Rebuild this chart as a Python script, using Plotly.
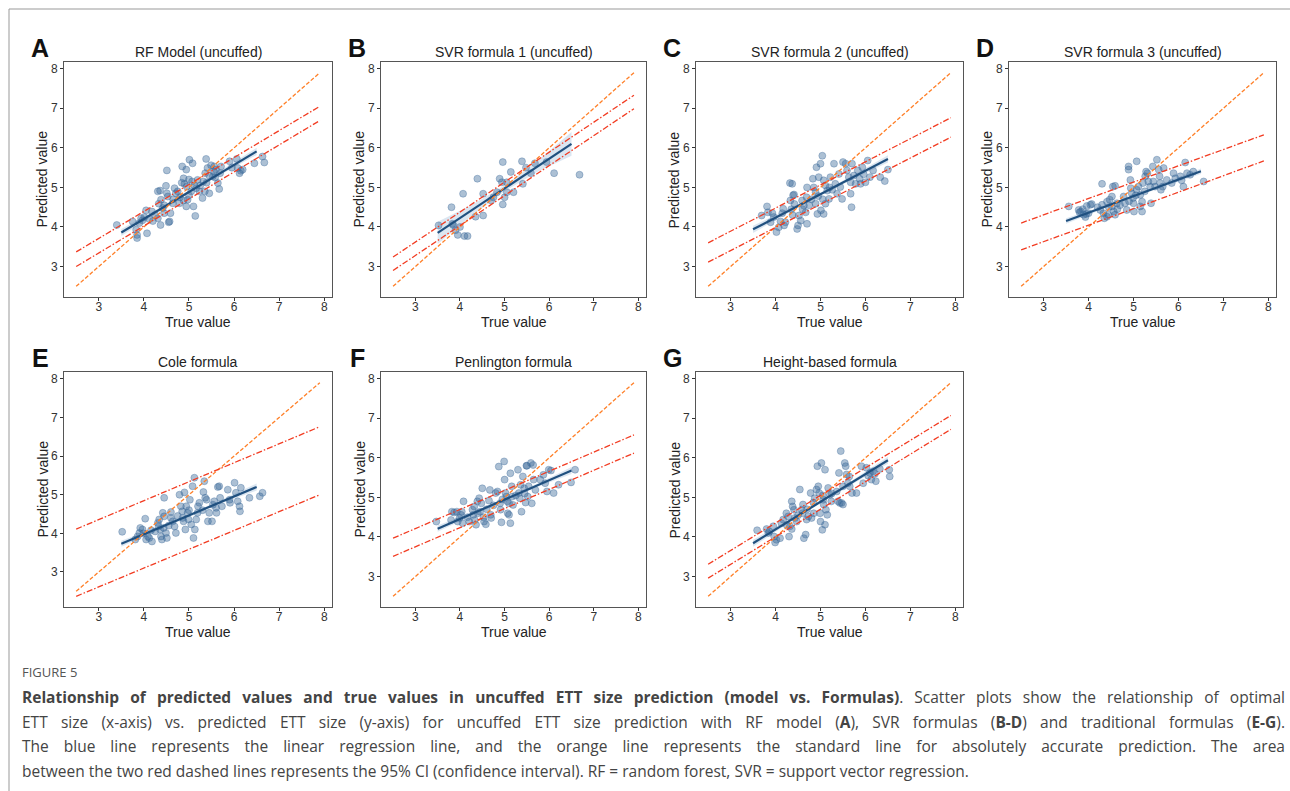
import plotly.graph_objects as go

W, H = 1290, 791

# ---------------- data ----------------
PANEL_LETTERS = ["A", "B", "C", "D", "E", "F", "G"]
PANEL_TITLES = ["RF Model (uncuffed)", "SVR formula 1 (uncuffed)", "SVR formula 2 (uncuffed)",
                "SVR formula 3 (uncuffed)", "Cole formula", "Penlington formula", "Height-based formula"]
TICKS = [3, 4, 5, 6, 7, 8]
LINE_X = [2.5, 7.9]
IDENTITY_Y = [2.5, 7.9]
REG_X = [3.5, 6.5]
BAND_X = [3.5, 4.25, 5.0, 5.75, 6.5]

A_points = [(3.40, 4.05), (3.75, 4.14), (3.83, 3.93), (3.85, 3.80), (3.85, 3.72), (3.90, 4.10), (3.94, 4.22),
            (3.97, 4.17), (4.01, 4.25), (4.07, 3.84), (4.05, 4.42), (4.12, 4.20), (4.18, 4.39), (4.25, 4.30),
            (4.31, 4.90), (4.36, 4.92), (4.38, 4.69), (4.33, 4.59), (4.37, 4.05), (4.31, 4.22), (4.42, 4.48),
            (4.45, 4.35), (4.51, 5.43), (4.51, 4.85), (4.49, 5.04), (4.53, 4.77), (4.57, 4.14), (4.59, 4.35),
            (4.55, 4.12), (4.64, 4.60), (4.65, 4.70), (4.68, 4.98), (4.71, 4.85), (4.79, 4.60), (4.85, 5.53),
            (4.84, 5.12), (4.88, 5.23), (4.90, 5.09), (4.94, 5.45), (4.95, 5.02), (5.01, 5.70), (4.97, 4.69),
            (4.94, 4.52), (4.88, 4.67), (5.05, 4.90), (5.07, 5.15), (5.08, 5.61), (5.10, 4.52), (5.14, 4.28),
            (5.16, 4.98), (5.19, 5.19), (5.23, 4.90), (5.30, 4.73), (5.32, 5.15), (5.36, 5.36), (5.38, 5.72),
            (5.39, 5.12), (5.41, 5.49), (5.45, 4.85), (5.49, 5.56), (5.53, 5.28), (5.56, 5.53), (5.60, 5.45),
            (5.64, 5.11), (5.67, 4.96), (5.69, 5.36), (5.71, 5.53), (5.55, 5.40), (5.90, 5.66), (6.06, 5.72),
            (6.08, 5.49), (6.12, 5.36), (6.15, 5.42), (6.19, 5.45), (6.45, 5.61), (6.63, 5.78), (6.67, 5.63),
            (4.80, 4.75), (5.00, 4.80), (5.12, 5.05), (4.75, 4.90), (5.25, 5.05), (5.45, 5.30), (5.58, 5.25),
            (5.95, 5.50), (4.20, 4.15), (4.45, 4.55), (5.35, 4.90), (5.00, 5.20)]
A_reg = [3.86, 5.91]
A_band_lo = [3.77, 4.32, 4.85, 5.35, 5.82]
A_band_hi = [3.95, 4.42, 4.92, 5.45, 6.00]
A_ci_upper = [3.37, 7.05]
A_ci_lower = [3.00, 6.69]

B_points = [(3.52, 4.04), (3.81, 4.50), (3.83, 4.08), (3.85, 4.05), (3.90, 3.92), (3.95, 3.80), (4.00, 4.00),
            (4.10, 3.77), (4.17, 3.77), (4.07, 4.84), (4.39, 5.22), (4.35, 4.26), (4.52, 4.84), (4.52, 4.29),
            (4.70, 4.67), (4.83, 4.88), (4.89, 5.22), (4.94, 5.13), (4.96, 5.64), (4.96, 4.57), (5.00, 4.75),
            (5.05, 4.88), (5.05, 5.13), (5.14, 5.39), (5.20, 4.88), (5.39, 5.66), (5.41, 5.09), (5.48, 5.50),
            (5.59, 5.36), (5.68, 5.61), (5.94, 5.64), (6.11, 5.36), (6.68, 5.32), (4.75, 4.75)]
B_reg = [3.85, 6.10]
B_band_lo = [3.57, 4.27, 4.90, 5.40, 5.80]
B_band_hi = [4.13, 4.55, 5.05, 5.68, 6.40]
B_ci_upper = [3.24, 7.33]
B_ci_lower = [2.90, 6.99]

C_points = [(3.69, 4.29), (3.81, 4.52), (3.83, 4.37), (3.93, 4.35), (3.96, 4.25), (3.89, 4.12), (4.02, 3.87),
            (4.07, 3.99), (4.11, 4.14), (4.15, 4.35), (4.19, 4.04), (4.17, 4.46), (4.22, 4.12), (4.32, 5.11),
            (4.37, 5.09), (4.33, 4.67), (4.39, 4.80), (4.41, 4.82), (4.35, 4.45), (4.38, 4.30), (4.42, 4.58),
            (4.48, 3.95), (4.50, 4.04), (4.56, 4.16), (4.52, 4.29), (4.59, 4.67), (4.63, 4.54), (4.67, 4.37),
            (4.69, 4.75), (4.70, 4.08), (4.70, 5.00), (4.83, 5.22), (4.85, 5.00), (4.89, 4.88), (4.89, 4.59),
            (4.91, 5.51), (4.93, 4.33), (4.96, 5.26), (5.00, 5.60), (5.04, 5.80), (5.07, 5.18), (5.11, 5.05),
            (5.15, 4.92), (5.01, 4.42), (5.07, 4.33), (5.11, 4.59), (5.19, 4.71), (5.22, 5.26), (5.26, 4.94),
            (5.30, 5.60), (5.33, 5.09), (5.37, 4.84), (5.41, 5.34), (5.44, 5.01), (5.48, 4.71), (5.50, 5.64),
            (5.56, 5.60), (5.59, 5.43), (5.63, 5.26), (5.67, 5.13), (5.67, 4.84), (5.69, 4.50), (5.70, 5.60),
            (5.74, 5.30), (5.78, 5.09), (5.83, 5.43), (5.87, 5.22), (5.89, 5.09), (5.93, 5.51), (5.96, 5.33),
            (6.00, 5.13), (6.05, 5.68), (6.10, 5.26), (6.17, 5.43), (6.33, 5.26), (6.43, 5.16), (6.50, 5.45),
            (4.80, 4.70), (4.95, 4.78), (5.05, 4.70), (4.60, 4.45), (4.75, 4.55), (5.20, 5.00)]
C_reg = [3.94, 5.72]
C_band_lo = [3.85, 4.335, 4.795, 5.225, 5.63]
C_band_hi = [4.03, 4.435, 4.865, 5.325, 5.81]
C_ci_upper = [3.60, 6.76]
C_ci_lower = [3.11, 6.27]

D_points = [(3.56, 4.52), (3.78, 4.43), (3.80, 4.37), (3.83, 4.39), (3.89, 4.31), (3.93, 4.25), (3.95, 4.33),
            (3.87, 4.45), (3.96, 4.53), (4.04, 4.56), (4.07, 4.58), (4.30, 5.09), (4.26, 4.43), (4.30, 4.56),
            (4.33, 4.35), (4.35, 4.22), (4.41, 4.26), (4.44, 4.31), (4.41, 4.64), (4.47, 4.69), (4.52, 4.77),
            (4.54, 5.02), (4.59, 5.04), (4.52, 4.52), (4.56, 4.39), (4.59, 4.31), (4.63, 4.60), (4.64, 4.45),
            (4.78, 4.77), (4.81, 4.60), (4.85, 4.43), (4.89, 5.53), (4.89, 5.45), (4.93, 5.19), (4.94, 4.98),
            (4.96, 4.85), (4.99, 4.73), (5.00, 4.60), (5.01, 4.39), (5.07, 5.66), (5.07, 4.94), (5.11, 5.02),
            (5.15, 4.81), (5.15, 4.52), (5.19, 4.64), (5.19, 4.39), (5.21, 5.11), (5.26, 5.28), (5.28, 5.40),
            (5.31, 5.36), (5.33, 5.15), (5.37, 5.02), (5.39, 4.60), (5.43, 5.53), (5.44, 5.15), (5.48, 5.02),
            (5.52, 5.70), (5.56, 5.45), (5.58, 5.28), (5.59, 5.11), (5.61, 4.94), (5.65, 5.02), (5.67, 5.49),
            (5.74, 5.19), (5.85, 5.11), (5.89, 5.36), (5.93, 5.23), (6.04, 5.28), (6.07, 5.18), (6.11, 5.02),
            (6.15, 5.63), (6.19, 5.36), (6.26, 5.32), (6.33, 5.40), (6.56, 5.15), (4.45, 4.50), (4.70, 4.55),
            (4.90, 4.65), (5.05, 4.80), (5.25, 4.90), (4.20, 4.50), (4.00, 4.35)]
D_reg = [4.15, 5.41]
D_band_lo = [4.08, 4.425, 4.75, 5.055, 5.34]
D_band_hi = [4.22, 4.505, 4.81, 5.135, 5.48]
D_ci_upper = [4.10, 6.33]
D_ci_lower = [3.42, 5.67]

E_points = [(3.52, 4.04), (3.81, 3.84), (3.86, 3.92), (3.90, 4.01), (3.92, 4.14), (3.97, 4.10), (3.99, 4.00),
            (4.03, 4.38), (4.05, 3.84), (4.09, 3.92), (4.12, 3.88), (4.16, 4.08), (4.18, 3.79), (4.31, 4.27),
            (4.33, 4.18), (4.34, 4.36), (4.36, 4.10), (4.38, 3.92), (4.40, 3.84), (4.42, 4.53), (4.45, 4.44),
            (4.45, 4.92), (4.44, 4.14), (4.49, 4.01), (4.51, 3.88), (4.60, 4.40), (4.64, 4.31), (4.68, 4.18),
            (4.71, 4.01), (4.79, 5.00), (4.82, 4.70), (4.85, 4.57), (4.86, 4.40), (4.88, 4.31), (4.90, 5.06),
            (4.92, 4.10), (4.94, 4.70), (4.97, 4.53), (4.99, 4.36), (5.02, 4.87), (5.05, 4.23), (5.08, 5.22),
            (5.12, 5.44), (5.10, 3.88), (5.13, 4.10), (5.16, 4.36), (5.19, 4.53), (5.23, 4.79), (5.32, 5.07),
            (5.34, 5.35), (5.36, 4.92), (5.39, 4.87), (5.42, 4.31), (5.45, 4.53), (5.51, 4.31), (5.53, 4.74),
            (5.56, 4.83), (5.60, 4.66), (5.61, 4.53), (5.64, 5.20), (5.67, 5.22), (5.69, 4.92), (5.73, 4.70),
            (5.86, 5.13), (5.90, 4.87), (5.91, 4.79), (6.01, 5.31), (6.04, 5.05), (6.08, 4.83), (6.12, 4.70),
            (6.13, 4.57), (6.15, 5.18), (6.34, 4.92), (6.57, 4.96), (6.63, 5.05), (4.55, 4.20), (4.75, 4.45),
            (5.00, 4.60), (5.20, 4.70), (4.25, 4.05), (4.60, 4.55), (5.30, 4.60)]
E_reg = [3.73, 5.20]
E_band_lo = [3.65, 4.05, 4.43, 4.79, 5.11]
E_band_hi = [3.81, 4.14, 4.50, 4.88, 5.29]
E_ci_upper = [4.11, 6.76]
E_ci_lower = [2.37, 5.00]

F_points = [(3.47, 4.39), (3.82, 4.64), (3.87, 4.62), (3.93, 4.64), (3.80, 4.43), (3.95, 4.39), (3.99, 4.48),
            (4.02, 4.56), (4.04, 4.64), (4.08, 4.90), (4.06, 4.35), (4.17, 4.50), (4.21, 4.39), (4.28, 4.69),
            (4.32, 4.77), (4.30, 4.56), (4.33, 4.43), (4.36, 4.31), (4.39, 4.90), (4.43, 4.98), (4.48, 4.85),
            (4.50, 5.23), (4.45, 4.64), (4.53, 4.50), (4.54, 4.39), (4.58, 4.32), (4.65, 4.92), (4.67, 5.19),
            (4.69, 4.56), (4.70, 4.48), (4.80, 5.11), (4.84, 5.15), (4.87, 5.78), (4.90, 4.85), (4.91, 4.69),
            (4.93, 4.37), (4.99, 5.91), (5.00, 5.45), (5.02, 5.11), (5.04, 5.02), (5.06, 4.90), (5.07, 4.60),
            (5.10, 4.56), (5.13, 5.61), (5.13, 4.35), (5.16, 5.28), (5.17, 5.02), (5.19, 4.81), (5.30, 5.70),
            (5.32, 5.11), (5.34, 4.98), (5.36, 5.32), (5.38, 4.64), (5.41, 5.53), (5.44, 5.23), (5.47, 4.87),
            (5.49, 5.80), (5.50, 5.80), (5.52, 5.02), (5.54, 5.28), (5.59, 5.87), (5.64, 5.82), (5.61, 4.85),
            (5.65, 5.45), (5.69, 5.19), (5.80, 5.45), (5.87, 5.57), (5.91, 5.36), (5.95, 5.15), (5.99, 5.70),
            (6.04, 5.68), (6.10, 5.11), (6.21, 5.32), (6.49, 5.38), (6.58, 5.70), (4.60, 4.70), (4.75, 4.80),
            (4.95, 4.95), (5.10, 4.85), (5.25, 5.05), (5.45, 5.10), (4.40, 4.60)]
F_reg = [4.21, 5.68]
F_band_lo = [4.13, 4.53, 4.91, 5.27, 5.59]
F_band_hi = [4.29, 4.62, 4.98, 5.36, 5.77]
F_ci_upper = [3.97, 6.58]
F_ci_lower = [3.51, 6.12]

G_points = [(3.59, 4.17), (3.80, 4.20), (3.86, 4.14), (3.84, 4.10), (3.95, 4.27), (3.97, 4.01), (4.02, 3.93),
            (3.99, 3.86), (4.10, 3.97), (4.13, 4.35), (4.17, 4.44), (4.24, 4.60), (4.28, 4.52), (4.30, 4.01),
            (4.32, 4.27), (4.36, 4.20), (4.36, 4.90), (4.38, 4.77), (4.41, 4.69), (4.43, 4.48), (4.47, 4.39),
            (4.54, 5.20), (4.58, 4.69), (4.60, 4.60), (4.61, 4.82), (4.63, 3.97), (4.67, 4.06), (4.69, 4.44),
            (4.73, 4.52), (4.78, 5.11), (4.80, 4.48), (4.84, 4.87), (4.87, 4.98), (4.91, 5.20), (4.93, 5.79),
            (4.95, 5.28), (4.97, 5.11), (4.99, 4.60), (5.00, 4.39), (5.02, 5.87), (5.04, 4.18), (5.06, 4.94),
            (5.07, 4.82), (5.10, 5.70), (5.10, 4.31), (5.12, 4.69), (5.15, 4.56), (5.17, 5.24), (5.21, 5.07),
            (5.24, 4.90), (5.36, 5.15), (5.39, 4.90), (5.43, 4.86), (5.41, 5.62), (5.45, 6.17), (5.47, 4.86),
            (5.50, 4.82), (5.50, 5.28), (5.54, 5.87), (5.56, 5.79), (5.58, 5.58), (5.61, 5.36), (5.64, 5.53),
            (5.65, 5.28), (5.70, 5.11), (5.80, 5.11), (5.91, 5.79), (5.95, 5.36), (6.02, 5.75), (6.06, 5.55),
            (6.10, 5.62), (6.13, 5.45), (6.17, 5.66), (6.21, 5.60), (6.23, 5.41), (6.32, 5.72), (6.53, 5.70),
            (6.54, 5.53), (4.50, 4.55), (4.70, 4.70), (5.05, 5.05), (5.25, 5.10), (4.85, 4.60), (4.25, 4.30)]
G_reg = [3.84, 5.94]
G_band_lo = [3.75, 4.32, 4.855, 5.365, 5.85]
G_band_hi = [3.93, 4.41, 4.925, 5.465, 6.03]
G_ci_upper = [3.31, 7.07]
G_ci_lower = [2.96, 6.72]

PANELS = [
    (A_points, A_reg, A_band_lo, A_band_hi, A_ci_upper, A_ci_lower),
    (B_points, B_reg, B_band_lo, B_band_hi, B_ci_upper, B_ci_lower),
    (C_points, C_reg, C_band_lo, C_band_hi, C_ci_upper, C_ci_lower),
    (D_points, D_reg, D_band_lo, D_band_hi, D_ci_upper, D_ci_lower),
    (E_points, E_reg, E_band_lo, E_band_hi, E_ci_upper, E_ci_lower),
    (F_points, F_reg, F_band_lo, F_band_hi, F_ci_upper, F_ci_lower),
    (G_points, G_reg, G_band_lo, G_band_hi, G_ci_upper, G_ci_lower),
]

CAPTION_LABEL = "FIGURE 5"
CAPTION_LINES = [
    "<b>Relationship of predicted values and true values in uncuffed ETT size prediction (model vs. Formulas)</b>. Scatter plots show the relationship of optimal",
    "ETT size (x-axis) vs. predicted ETT size (y-axis) for uncuffed ETT size prediction with RF model (<b>A</b>), SVR formulas (<b>B-D</b>) and traditional formulas (<b>E-G</b>).",
    "The blue line represents the linear regression line, and the orange line represents the standard line for absolutely accurate prediction. The area",
    "between the two red dashed lines represents the 95% CI (confidence interval). RF = random forest, SVR = support vector regression.",
]

# ---------------- layout geometry ----------------
COLS = [(64, 332), (381, 646), (696, 963), (1009, 1276)]
ROWS = [(62, 297), (372, 607)]
FONT = "Liberation Sans, Arial, sans-serif"

PT_COLOR = "rgba(58,104,152,0.42)"
PT_EDGE = "rgba(58,104,152,0.5)"
REG_COLOR = "#20507f"
BAND_COLOR = "rgba(90,140,190,0.22)"
ORANGE = "#ff7f27"
RED = "#f23c22"


def px(x):
    return x / W


def py(y):
    return 1 - y / H


fig = go.Figure()
annotations = []
layout_axes = {}

for i, (pts, reg, blo, bhi, cup, clo) in enumerate(PANELS):
    r, c = divmod(i, 4)
    x0, x1 = COLS[c]
    y0, y1 = ROWS[r]
    n = "" if i == 0 else str(i + 1)
    xa, ya = "x" + n, "y" + n

    xs = [p[0] for p in pts]
    ys = [p[1] for p in pts]

    fig.add_trace(go.Scatter(x=BAND_X + BAND_X[::-1], y=bhi + blo[::-1], fill="toself",
                             fillcolor=BAND_COLOR, line=dict(width=0), mode="lines",
                             hoverinfo="skip", showlegend=False, xaxis=xa, yaxis=ya))
    fig.add_trace(go.Scatter(x=xs, y=ys, mode="markers",
                             marker=dict(size=7, color=PT_COLOR, line=dict(width=0.7, color=PT_EDGE)),
                             showlegend=False, xaxis=xa, yaxis=ya))
    fig.add_trace(go.Scatter(x=REG_X, y=reg, mode="lines", line=dict(color=REG_COLOR, width=2.2),
                             showlegend=False, xaxis=xa, yaxis=ya))
    fig.add_trace(go.Scatter(x=LINE_X, y=IDENTITY_Y, mode="lines",
                             line=dict(color=ORANGE, width=1.3, dash="4px,2px"),
                             showlegend=False, xaxis=xa, yaxis=ya))
    for cy in (cup, clo):
        fig.add_trace(go.Scatter(x=LINE_X, y=cy, mode="lines",
                                 line=dict(color=RED, width=1.3, dash="6px,2px,1.5px,2px"),
                                 showlegend=False, xaxis=xa, yaxis=ya))

    xlo, xhi = LINE_X
    xpad = 0.05 * (xhi - xlo)
    ylo = min(IDENTITY_Y[0], clo[0], cup[0])
    yhi = max(IDENTITY_Y[1], cup[1], clo[1])
    ypad = 0.05 * (yhi - ylo)

    axis_common = dict(showgrid=False, zeroline=False, showline=True, mirror=True,
                       linecolor="#555", linewidth=1, ticks="outside", ticklen=3,
                       tickcolor="#333", tickwidth=1, tickvals=TICKS,
                       tickfont=dict(family=FONT, size=12, color="#333"))
    layout_axes["xaxis" + n] = dict(axis_common, domain=[px(x0), px(x1)], ticklabelstandoff=-4,
                                    range=[xlo - xpad, xhi + xpad], anchor=ya)
    layout_axes["yaxis" + n] = dict(axis_common, domain=[py(y1), py(y0)], ticklabelstandoff=0,
                                    range=[ylo - ypad, yhi + ypad], anchor=xa)

    cx = (x0 + x1) / 2
    annotations.append(dict(text=PANEL_TITLES[i], x=px(cx), y=py(y0 - 10), xref="paper", yref="paper",
                            showarrow=False, xanchor="center", yanchor="middle",
                            font=dict(family=FONT, size=14, color="#222")))
    annotations.append(dict(text="<b>" + PANEL_LETTERS[i] + "</b>", x=px(x0 - 24), y=py(y0 - 14),
                            xref="paper", yref="paper", showarrow=False, xanchor="center",
                            yanchor="middle", font=dict(family=FONT, size=25, color="#111")))
    annotations.append(dict(text="True value", x=px(cx), y=py(y1 + 25), xref="paper", yref="paper",
                            showarrow=False, xanchor="center", yanchor="middle",
                            font=dict(family=FONT, size=14, color="#222")))
    annotations.append(dict(text="Predicted value", x=px(x0 - 22), y=py((y0 + y1) / 2), xref="paper",
                            yref="paper", showarrow=False, xanchor="center", yanchor="middle",
                            textangle=-90, font=dict(family=FONT, size=14, color="#222")))

CAP_FONT = "Open Sans, sans-serif"
annotations.append(dict(text=CAPTION_LABEL, x=px(20), y=py(672), xref="paper", yref="paper",
                        showarrow=False, xanchor="left", yanchor="middle", align="left",
                        font=dict(family=CAP_FONT, size=13, color="#555")))
for k, line in enumerate(CAPTION_LINES):
    annotations.append(dict(text=line, x=px(20), y=py(697 + k * 24.5), xref="paper", yref="paper",
                            showarrow=False, xanchor="left", yanchor="middle", align="left",
                            font=dict(family=CAP_FONT, size=15.5, color="#444")))

shapes = [
    dict(type="line", xref="paper", yref="paper", x0=px(9), x1=1, y0=py(9), y1=py(9),
         line=dict(color="#999", width=1)),
    dict(type="line", xref="paper", yref="paper", x0=px(9), x1=px(9), y0=py(9), y1=0,
         line=dict(color="#999", width=1)),
]

fig.update_layout(width=W, height=H, margin=dict(l=0, r=0, t=0, b=0),
                  paper_bgcolor="white", plot_bgcolor="white",
                  annotations=annotations, shapes=shapes, showlegend=False,
                  **layout_axes)

POST_JS = """
document.body.style.margin = '0px';
document.body.style.overflow = 'hidden';
var gd = document.getElementById('{plot_id}');
function justifyCaption() {
  var starts = ['Relationship of predicted', 'ETT size (x-axis)', 'The blue line'];
  var texts = document.querySelectorAll('text.annotation-text');
  for (var i = 0; i < texts.length; i++) {
    var t = texts[i];
    var s = t.textContent;
    var hit = false;
    for (var j = 0; j < starts.length; j++) { if (s.indexOf(starts[j]) === 0) { hit = true; } }
    if (!hit) { continue; }
    t.style.wordSpacing = '0px';
    var w = t.getBBox().width;
    var n = (s.match(/[ \\u00a0]/g) || []).length;
    var target = 1263;
    if (n > 0 && w < target) { t.style.wordSpacing = ((target - w) / n) + 'px'; }
  }
}
justifyCaption();
setTimeout(justifyCaption, 100);
setTimeout(justifyCaption, 500);
if (gd && gd.on) { gd.on('plotly_afterplot', justifyCaption); }
"""

fig.write_html("out.html", post_script=POST_JS, config={"displayModeBar": False})
